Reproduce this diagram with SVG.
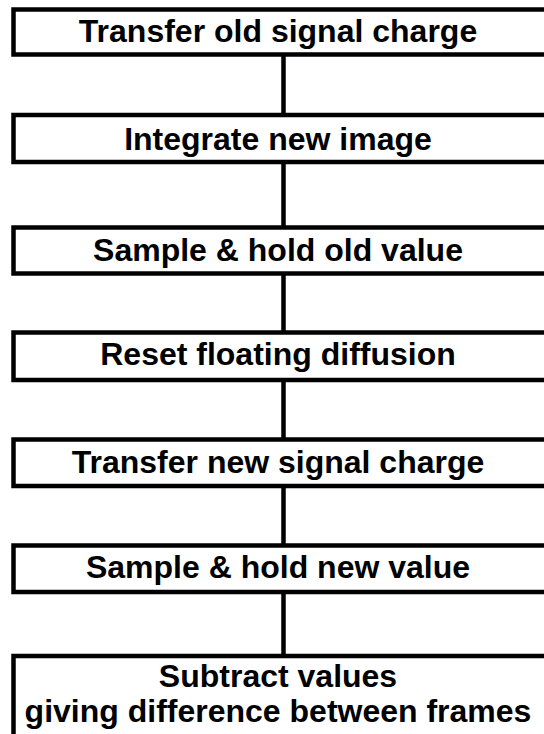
<svg xmlns="http://www.w3.org/2000/svg" width="544" height="734" viewBox="0 0 544 734">
<style>
.box{fill:#fff;stroke:#000;stroke-width:4.5}
.lbl{font-family:"Liberation Sans",Arial,sans-serif;font-weight:bold;font-size:32px;fill:#000;text-anchor:middle}
.con{stroke:#000;stroke-width:4.5;fill:none}
</style>
<rect width="544" height="734" fill="#fff"/>
<g id="connectors">
<line class="con" x1="283.5" y1="55.5" x2="283.5" y2="115"/>
<line class="con" x1="283.5" y1="162" x2="283.5" y2="227.5"/>
<line class="con" x1="283.5" y1="274" x2="283.5" y2="332.5"/>
<line class="con" x1="283.5" y1="380" x2="283.5" y2="439.5"/>
<line class="con" x1="283.5" y1="486" x2="283.5" y2="545.5"/>
<line class="con" x1="283.5" y1="592" x2="283.5" y2="656"/>
</g>
<g id="n1"><rect class="box" x="13.5" y="9.5" width="540" height="45"/><text class="lbl" x="278" y="42">Transfer old signal charge</text></g>
<g id="n2"><rect class="box" x="13.5" y="115" width="540" height="47"/><text class="lbl" x="278" y="150">Integrate new image</text></g>
<g id="n3"><rect class="box" x="13.5" y="227.5" width="540" height="46"/><text class="lbl" x="278" y="261">Sample &amp; hold old value</text></g>
<g id="n4"><rect class="box" x="13.5" y="332.5" width="540" height="47.5"/><text class="lbl" x="278" y="365">Reset floating diffusion</text></g>
<g id="n5"><rect class="box" x="13.5" y="439.5" width="540" height="46.5"/><text class="lbl" x="278" y="473">Transfer new signal charge</text></g>
<g id="n6"><rect class="box" x="13.5" y="545.5" width="540" height="46.5"/><text class="lbl" x="278" y="578">Sample &amp; hold new value</text></g>
<g id="n7"><rect class="box" x="13.5" y="656" width="540" height="100"/><text class="lbl" x="278" y="687">Subtract values</text><text class="lbl" x="278" y="722">giving difference between frames</text></g>
</svg>
